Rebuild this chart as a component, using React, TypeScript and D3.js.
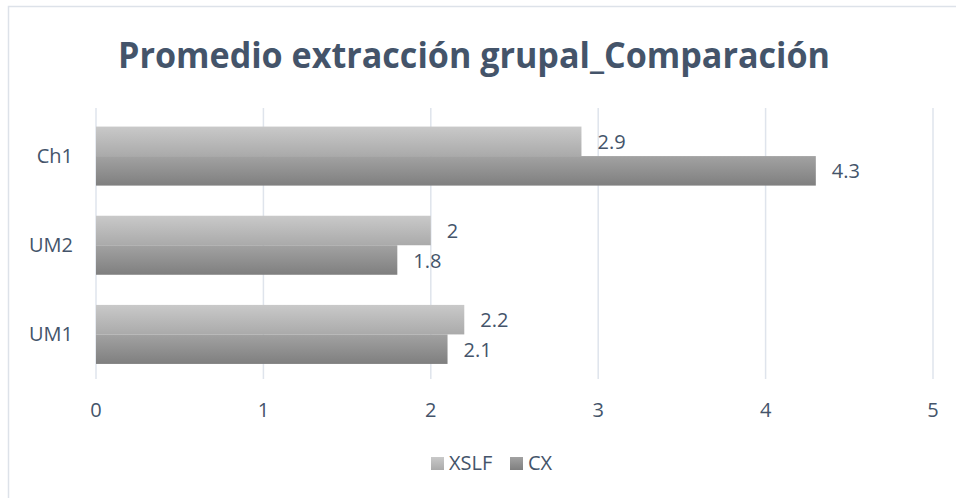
import React from "react";
import * as d3 from "d3";

const categories = ["Ch1", "UM2", "UM1"];
const seriesNames = ["XSLF", "CX"];
const xslfValues = [2.9, 2.0, 2.2];
const cxValues = [4.3, 1.8, 2.1];
const xTicks = [0, 1, 2, 3, 4, 5];
const title = "Promedio extracción grupal_Comparación";

const W = 956;
const H = 498;
const FONT = "'Open Sans', sans-serif";
const TXT = "#44546a";

export default function App() {
  const x = d3.scaleLinear().domain([0, 5]).range([96, 933]);
  const y = d3.scaleBand<string>().domain(categories).range([111.5, 379]).paddingInner(0.338).paddingOuter(0.169);
  const sub = d3.scaleBand<string>().domain(seriesNames).range([0, y.bandwidth()]);
  const series = [xslfValues, cxValues];
  const fills = ["url(#gXSLF)", "url(#gCX)"];
  const fmt = (v: number) => d3.format("~g")(v);

  return (
    <svg width={W} height={H} style={{ position: "absolute", left: 0, top: 0 }}>
      <defs>
        <linearGradient id="gXSLF" x1="0" y1="0" x2="0" y2="1">
          <stop offset="0" stopColor="#c9c9c9" />
          <stop offset="1" stopColor="#aaaaaa" />
        </linearGradient>
        <linearGradient id="gCX" x1="0" y1="0" x2="0" y2="1">
          <stop offset="0" stopColor="#a2a2a2" />
          <stop offset="1" stopColor="#7f7f7f" />
        </linearGradient>
      </defs>
      <rect x={0} y={0} width={W} height={H} fill="#fff" />
      <rect x={8.5} y={6.5} width={W} height={H} fill="#fff" stroke="#dde2e9" strokeWidth={1.5} />
      <text x={474} y={68} textAnchor="middle" fontFamily={FONT} fontWeight={700} fontSize={36} fill={TXT}
        textLength={712} lengthAdjust="spacingAndGlyphs">
        {title}
      </text>
      {xTicks.map((t) => (
        <line key={t} x1={x(t)} x2={x(t)} y1={108} y2={379} stroke="#dfe4ec" strokeWidth={1.5} />
      ))}
      {categories.map((c, i) =>
        series.map((s, j) => {
          const y0 = (y(c) as number) + (sub(seriesNames[j]) as number);
          const bh = sub.bandwidth();
          return (
            <g key={c + j}>
              <rect x={x(0)} y={y0} width={x(s[i]) - x(0)} height={bh} fill={fills[j]} />
              <text x={x(s[i]) + 16} y={y0 + bh / 2 + 7.5} fontFamily={FONT} fontSize={20} fill={TXT}>
                {fmt(s[i])}
              </text>
            </g>
          );
        })
      )}
      {categories.map((c) => (
        <text key={c} x={73} y={(y(c) as number) + y.bandwidth() / 2 + 7} textAnchor="end" fontFamily={FONT} fontSize={20} fill={TXT}>
          {c}
        </text>
      ))}
      {xTicks.map((t) => (
        <text key={t} x={x(t)} y={417} textAnchor="middle" fontFamily={FONT} fontSize={20} fill={TXT}>
          {t}
        </text>
      ))}
      <g>
        <rect x={431} y={457} width={13} height={13} fill="url(#gXSLF)" />
        <text x={449} y={469.5} fontFamily={FONT} fontSize={20} fill={TXT}>XSLF</text>
        <rect x={510} y={457} width={13} height={13} fill="url(#gCX)" />
        <text x={528} y={469.5} fontFamily={FONT} fontSize={20} fill={TXT}>CX</text>
      </g>
    </svg>
  );
}
